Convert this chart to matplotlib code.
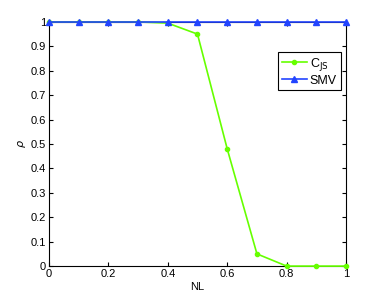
import numpy as np
import matplotlib
matplotlib.use('Agg')
import matplotlib.pyplot as plt

plt.rcParams['font.family'] = ['Liberation Sans', 'DejaVu Sans']

# datos
nl = [0, 0.1, 0.2, 0.3, 0.4, 0.5, 0.6, 0.7, 0.8, 0.9, 1.0]
c_js = [1, 1, 1, 1, 0.995, 0.95, 0.48, 0.05, 0, 0, 0]
smv = [1, 1, 1, 1, 1, 1, 1, 1, 1, 1, 1]

fig = plt.figure(figsize=(3.82, 3.0), dpi=100)
ax = fig.add_axes([0.128, 0.113, 0.778, 0.814])

ax.plot(nl, c_js, color='#66ff00', lw=1.2, marker='o', ms=3, label=r'C$_{\mathrm{JS}}$',
        clip_on=False, zorder=3)
ax.plot(nl, smv, color='#2244ff', lw=1.2, marker='^', ms=5, label='SMV',
        clip_on=False, zorder=4)

ax.set_xlim(0, 1)
ax.set_ylim(0, 1)
ax.set_xticks(np.arange(0, 1.01, 0.2))
ax.set_xticklabels(['0', '0.2', '0.4', '0.6', '0.8', '1'])
ax.set_yticks(np.arange(0, 1.01, 0.1))
ax.set_yticklabels(['0', '0.1', '0.2', '0.3', '0.4', '0.5', '0.6', '0.7', '0.8', '0.9', '1'])
ax.tick_params(direction='in', length=3, labelsize=8, top=True, right=True, pad=2)
for s in ax.spines.values():
    s.set_linewidth(0.8)

ax.set_xlabel('NL', fontsize=8, labelpad=2)
ax.set_ylabel(r'$\rho$', fontsize=8, labelpad=2)

leg = ax.legend(loc='upper right', bbox_to_anchor=(0.982, 0.877), fontsize=9, fancybox=False,
                edgecolor='black', framealpha=1, handlelength=2.0, borderpad=0.3,
                labelspacing=0.15, handletextpad=0.25, borderaxespad=0)
leg.get_frame().set_linewidth(0.8)

plt.savefig('out.png', dpi=100)
